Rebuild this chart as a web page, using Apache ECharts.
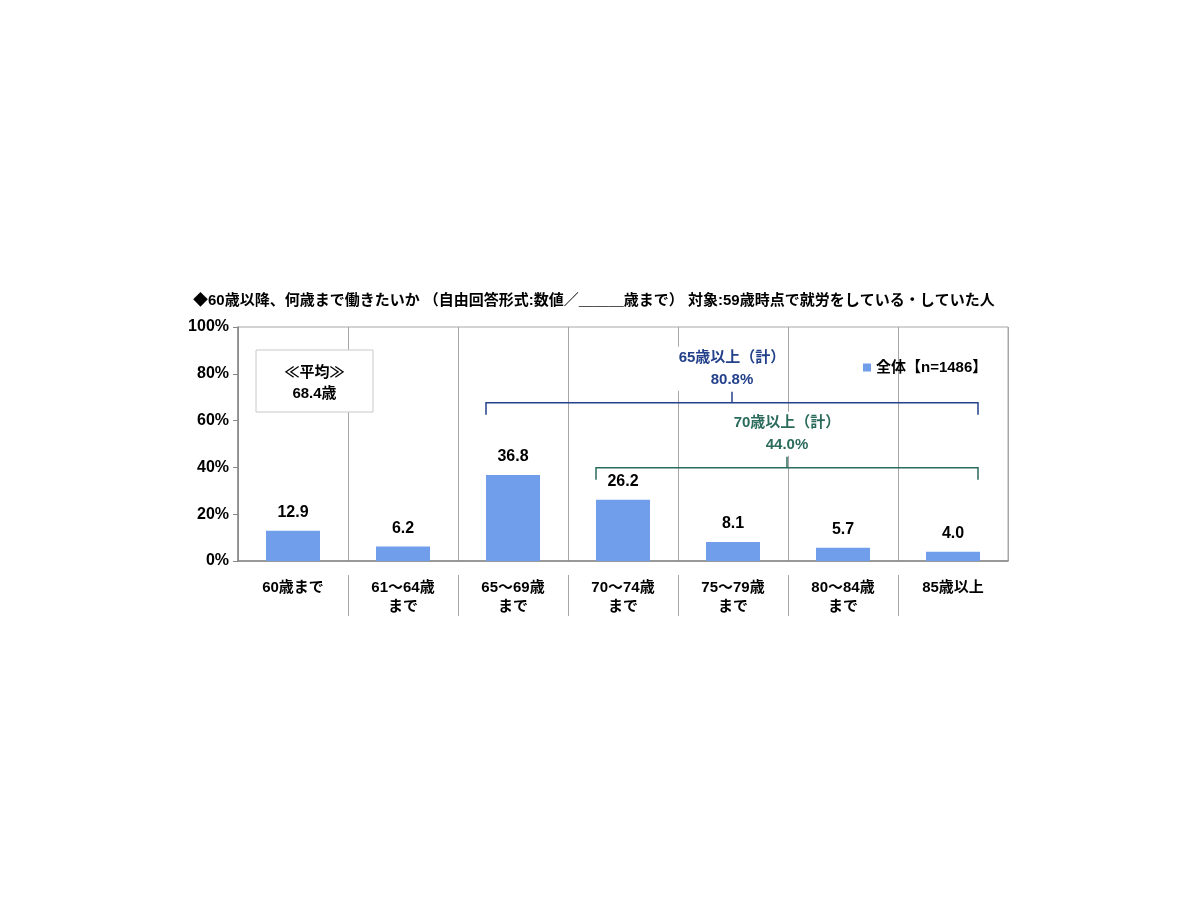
<!DOCTYPE html>
<html>
<head>
<meta charset="utf-8">
<script src="https://cdn.jsdelivr.net/npm/echarts@6/dist/echarts.min.js"></script>
<style>
html, body { margin: 0; padding: 0; background: #fff; }
#chart { width: 1200px; height: 900px; }
</style>
</head>
<body>
<div id="chart"></div>
<script>
// データ
var categories = ['60歳まで', '61～64歳\nまで', '65～69歳\nまで', '70～74歳\nまで', '75～79歳\nまで', '80～84歳\nまで', '85歳以上'];
var values = [12.9, 6.2, 36.8, 26.2, 8.1, 5.7, 4.0];
var seriesName = '全体【n=1486】';
var yTicks = [0, 20, 40, 60, 80, 100];

// 合計の括弧 (カテゴリ範囲, 高さ%, ラベル)
var bracketFrom = [2, 3];
var bracketTo = [6, 6];
var bracketLevel = [67.6, 39.9];
var bracketLabel = ['65歳以上（計）\n80.8%', '70歳以上（計）\n44.0%'];
var bracketColor = ['#23408a', '#2b6b5b'];

var averageText = '≪平均≫\n68.4歳';
var titleText = '◆60歳以降、何歳まで働きたいか （自由回答形式:数値／＿＿＿歳まで） 対象:59歳時点で就労をしている・していた人';

var FONT = '"Liberation Sans", "Noto Sans CJK JP", sans-serif';

var myChart = echarts.init(document.getElementById('chart'));

var option = {
	backgroundColor: '#fff',
	animation: false,
	textStyle: { fontFamily: FONT },
	title: {
		text: titleText,
		left: 188,
		top: 288,
		textStyle: { fontSize: 15, fontWeight: 'bold', color: '#000', fontFamily: FONT }
	},
	legend: {
		data: [seriesName],
		left: 858,
		top: 355,
		icon: 'rect',
		itemWidth: 8,
		itemHeight: 8,
		itemGap: 4,
		textStyle: { fontSize: 15, fontWeight: 'bold', color: '#000', fontFamily: FONT }
	},
	grid: {
		left: 238,
		right: 192,
		top: 327,
		bottom: 339,
		show: true,
		borderColor: '#a6a6a6',
		borderWidth: 1
	},
	xAxis: {
		type: 'category',
		data: categories,
		axisLine: { lineStyle: { color: '#868686', width: 1.5 } },
		axisTick: { length: 5, lineStyle: { color: '#868686' } },
		splitLine: { show: true, lineStyle: { color: '#a6a6a6', width: 1 } },
		axisLabel: {
			margin: 17,
			fontSize: 15,
			lineHeight: 19,
			fontWeight: 'bold',
			color: '#000',
			interval: 0
		}
	},
	yAxis: {
		type: 'value',
		min: yTicks[0],
		max: yTicks[yTicks.length - 1],
		interval: 20,
		axisLine: { show: true, lineStyle: { color: '#868686', width: 1.5 } },
		axisTick: { show: true, length: 5, lineStyle: { color: '#868686' } },
		splitLine: { show: false },
		axisLabel: {
			formatter: '{value}%',
			fontSize: 16,
			fontWeight: 'bold',
			color: '#000',
			margin: 9
		}
	},
	series: [{
		name: seriesName,
		type: 'bar',
		data: values,
		barWidth: 54,
		itemStyle: { color: '#709eeb' },
		label: {
			show: true,
			position: 'top',
			distance: 10,
			fontSize: 16,
			fontWeight: 'bold',
			color: '#000',
			formatter: function (p) { return p.value.toFixed(1); }
		}
	}]
};

myChart.setOption(option);

// 注記 (括弧、区切り線、平均) を軸の座標から作る
function buildGraphics() {
	var half = 27;
	var els = [];
	var y0 = myChart.convertToPixel({ yAxisIndex: 0 }, 0);
	var step = myChart.convertToPixel({ xAxisIndex: 0 }, 1) - myChart.convertToPixel({ xAxisIndex: 0 }, 0);
	// カテゴリラベルの区切り線
	for (var i = 1; i < categories.length; i++) {
		var xs = Math.round(myChart.convertToPixel({ xAxisIndex: 0 }, i) - step / 2) + 0.5;
		els.push({
			type: 'line',
			shape: { x1: xs, y1: y0 + 14, x2: xs, y2: y0 + 55 },
			style: { stroke: '#a6a6a6', lineWidth: 1 }
		});
	}
	for (var k = 0; k < bracketFrom.length; k++) {
		var x0 = myChart.convertToPixel({ xAxisIndex: 0 }, bracketFrom[k]) - half;
		var x1 = myChart.convertToPixel({ xAxisIndex: 0 }, bracketTo[k]) + half - 2;
		var y = myChart.convertToPixel({ yAxisIndex: 0 }, bracketLevel[k]);
		var xm = (x0 + x1) / 2;
		var col = bracketColor[k];
		els.push({
			type: 'text',
			z: 20,
			style: {
				text: bracketLabel[k],
				x: xm,
				y: y - 34,
				align: 'center',
				verticalAlign: 'middle',
				fontSize: 15,
				lineHeight: 22,
				fontWeight: 'bold',
				fontFamily: FONT,
				fill: col,
				backgroundColor: '#fff',
				padding: [0, 2]
			}
		});
		els.push({
			type: 'polyline',
			z: 21,
			shape: { points: [[x0, y + 12], [x0, y], [x1, y], [x1, y + 12]] },
			style: { stroke: col, lineWidth: 1.5, fill: null }
		});
		els.push({
			type: 'line',
			z: 21,
			shape: { x1: xm, y1: y, x2: xm, y2: y - 11 },
			style: { stroke: col, lineWidth: 1.5 }
		});
	}
	// 平均ボックス
	els.push({
		type: 'rect',
		z: 20,
		shape: { x: 256, y: 350, width: 117, height: 62 },
		style: { fill: '#fff', stroke: '#c8c8c8', lineWidth: 1 }
	});
	els.push({
		type: 'text',
		z: 21,
		style: {
			text: averageText,
			x: 314.5,
			y: 383,
			align: 'center',
			verticalAlign: 'middle',
			fontSize: 15,
			lineHeight: 21,
			fontWeight: 'bold',
			fontFamily: FONT,
			fill: '#000'
		}
	});
	myChart.setOption({ graphic: els });
}

buildGraphics();
</script>
</body>
</html>
